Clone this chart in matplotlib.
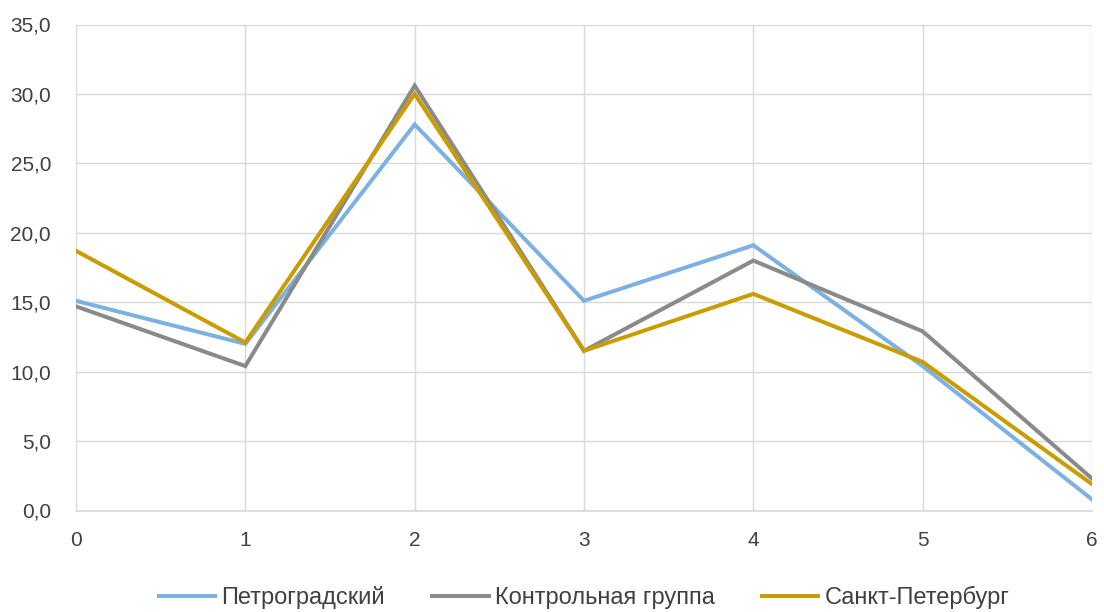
import matplotlib
matplotlib.use("Agg")
import matplotlib.pyplot as plt
from matplotlib.ticker import FuncFormatter

x_vals = [0, 1, 2, 3, 4, 5, 6]
petrogradsky = [15.1, 12.0, 27.8, 15.1, 19.1, 10.4, 0.8]
control = [14.7, 10.4, 30.6, 11.5, 18.0, 12.9, 2.3]
spb = [18.7, 12.1, 30.0, 11.5, 15.6, 10.7, 1.9]

series_names = ["Петроградский", "Контрольная группа", "Санкт-Петербург"]
series_colors = ["#7DB1E1", "#8A8A8A", "#C99C00"]

plt.rcParams["font.family"] = ["Liberation Sans Narrow", "Liberation Sans", "DejaVu Sans"]

fig = plt.figure(figsize=(11.04, 6.12), dpi=100)
ax = fig.add_axes([76 / 1104, 1 - 510.5 / 612, (1092 - 76) / 1104, (510.5 - 24.5) / 612])

for vals, name, col in zip([petrogradsky, control, spb], series_names, series_colors):
    ax.plot(x_vals, vals, color=col, lw=2.9, label=name, solid_joinstyle="miter")

ax.set_xlim(0, 6)
ax.set_ylim(0, 35)
ax.set_xticks(x_vals)
ax.set_yticks(range(0, 36, 5))
ax.yaxis.set_major_formatter(FuncFormatter(lambda v, p: f"{v:.1f}".replace(".", ",")))
ax.grid(True, color="#D9D9D9", lw=1)
ax.axhline(0, color="#D9D9D9", lw=1.2, clip_on=False, zorder=0)
ax.set_axisbelow(True)
for s in ax.spines.values():
    s.set_visible(False)
ax.tick_params(length=0, labelsize=15, colors="#404040")
ax.tick_params(axis="y", pad=18)
ax.tick_params(axis="x", pad=15)

ax.legend(loc="upper center", bbox_to_anchor=(0.5, -0.112), ncol=3, frameon=False,
          fontsize=17, handlelength=2.4, handletextpad=0.25, columnspacing=2.0,
          labelcolor="#404040")

fig.savefig("out.png", dpi=100)
